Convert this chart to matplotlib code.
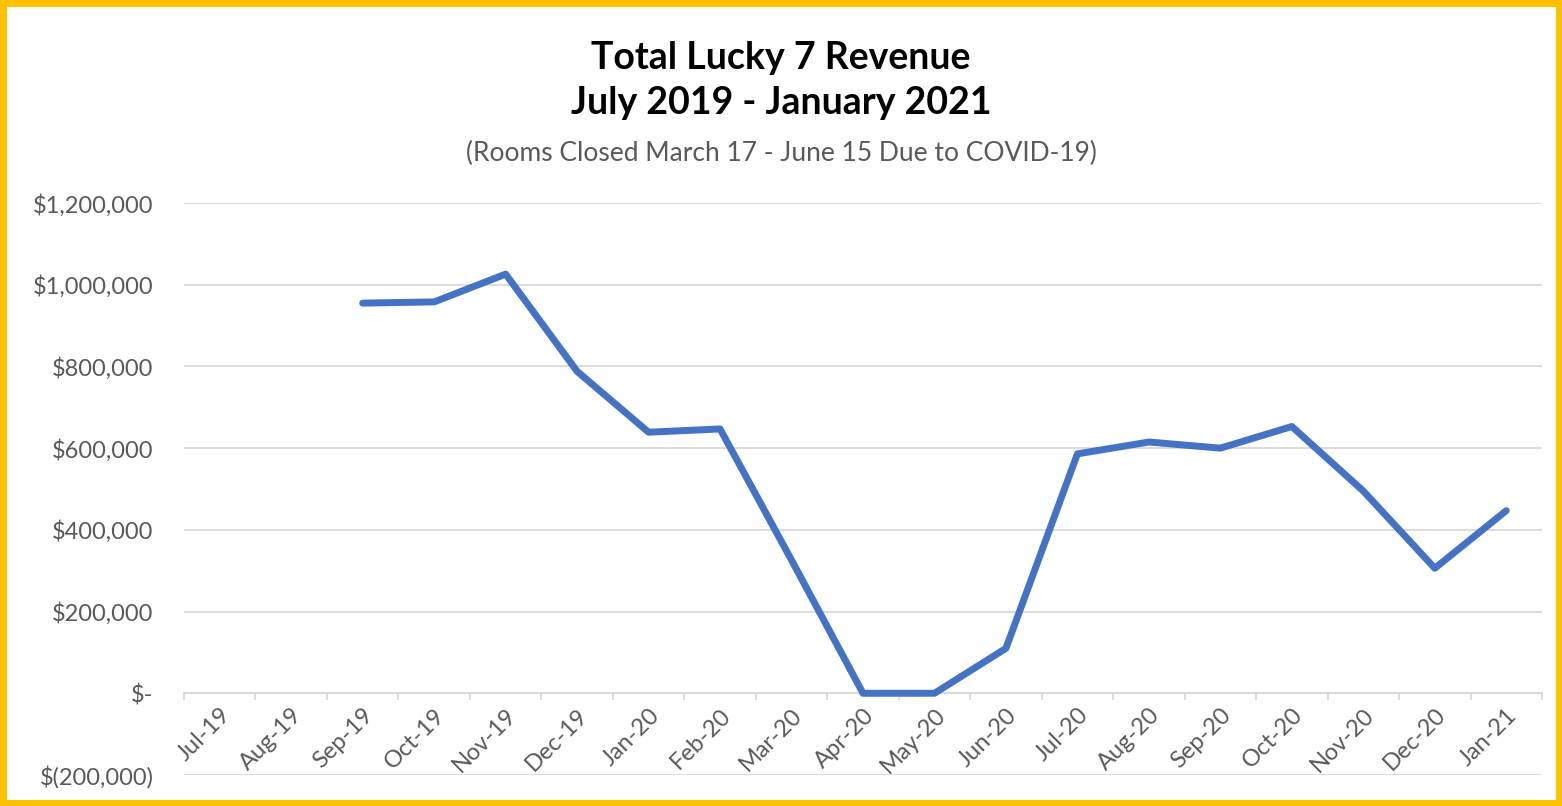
import numpy as np
import matplotlib
matplotlib.use("Agg")
import matplotlib.pyplot as plt
from matplotlib.patches import Rectangle
from matplotlib.ticker import FuncFormatter, FixedLocator

plt.rcParams['font.family'] = ['Lato', 'DejaVu Sans']

months = ['Jul-19', 'Aug-19', 'Sep-19', 'Oct-19', 'Nov-19', 'Dec-19', 'Jan-20',
          'Feb-20', 'Mar-20', 'Apr-20', 'May-20', 'Jun-20', 'Jul-20', 'Aug-20',
          'Sep-20', 'Oct-20', 'Nov-20', 'Dec-20', 'Jan-21']
revenue = [np.nan, np.nan, 955000, 958000, 1026000, 788000, 639000,
           647000, 326000, 0, 0, 110000, 586000, 615000,
           600000, 653000, 495000, 306000, 447000]

fig = plt.figure(figsize=(15.62, 8.06), dpi=100)
ax = fig.add_axes([0.1178, 0.0385, 0.8694, 0.7096])

x = np.arange(len(months))
ax.plot(x, revenue, color='#4472C4', lw=5, solid_capstyle='round',
        solid_joinstyle='round', zorder=3)

ax.set_xlim(-0.5, len(months) - 0.5)
ax.set_ylim(-200000, 1200000)
ax.set_yticks(np.arange(-200000, 1200001, 200000))


def money(v, pos):
    if v == 0:
        return '$-'
    if v < 0:
        return '$({:,.0f})'.format(-v)
    return '${:,.0f}'.format(v)


ax.yaxis.set_major_formatter(FuncFormatter(money))
ax.tick_params(axis='y', length=0, pad=22, labelsize=17, labelcolor='#595959')
ax.grid(axis='y', color='#D9D9D9', lw=1.3, zorder=0)

# category axis crosses at zero, tick marks between categories
ax.spines['bottom'].set_position(('data', 0))
ax.spines['bottom'].set_color('#D9D9D9')
ax.spines['bottom'].set_linewidth(1.3)
for s in ['left', 'right', 'top']:
    ax.spines[s].set_visible(False)
ax.xaxis.set_major_locator(FixedLocator(np.arange(-0.5, len(months), 1.0)))
ax.xaxis.set_minor_locator(FixedLocator(x))
ax.set_xticklabels([], minor=False)
ax.set_xticklabels(months, minor=True, rotation=45, ha='right',
                   rotation_mode='anchor', fontsize=17, color='#595959')
ax.tick_params(axis='x', which='major', length=5, width=1.3, color='#D9D9D9',
               direction='out')
ax.tick_params(axis='x', which='minor', length=0, pad=8)

fig.text(0.5, 0.928, 'Total Lucky 7 Revenue', ha='center', va='center',
         fontsize=27, fontweight='bold', color='black')
fig.text(0.5, 0.872, 'July 2019 - January 2021', ha='center', va='center',
         fontsize=27, fontweight='bold', color='black')
fig.text(0.5, 0.810, '(Rooms Closed March 17 - June 15 Due to COVID-19)',
         ha='center', va='center', fontsize=19, color='#595959')

# yellow frame
fig.patches.append(Rectangle((0.002, 0.004), 0.996, 0.992, transform=fig.transFigure,
                             fill=False, edgecolor='#FFC000', lw=5))

fig.savefig('out.png', dpi=100)
